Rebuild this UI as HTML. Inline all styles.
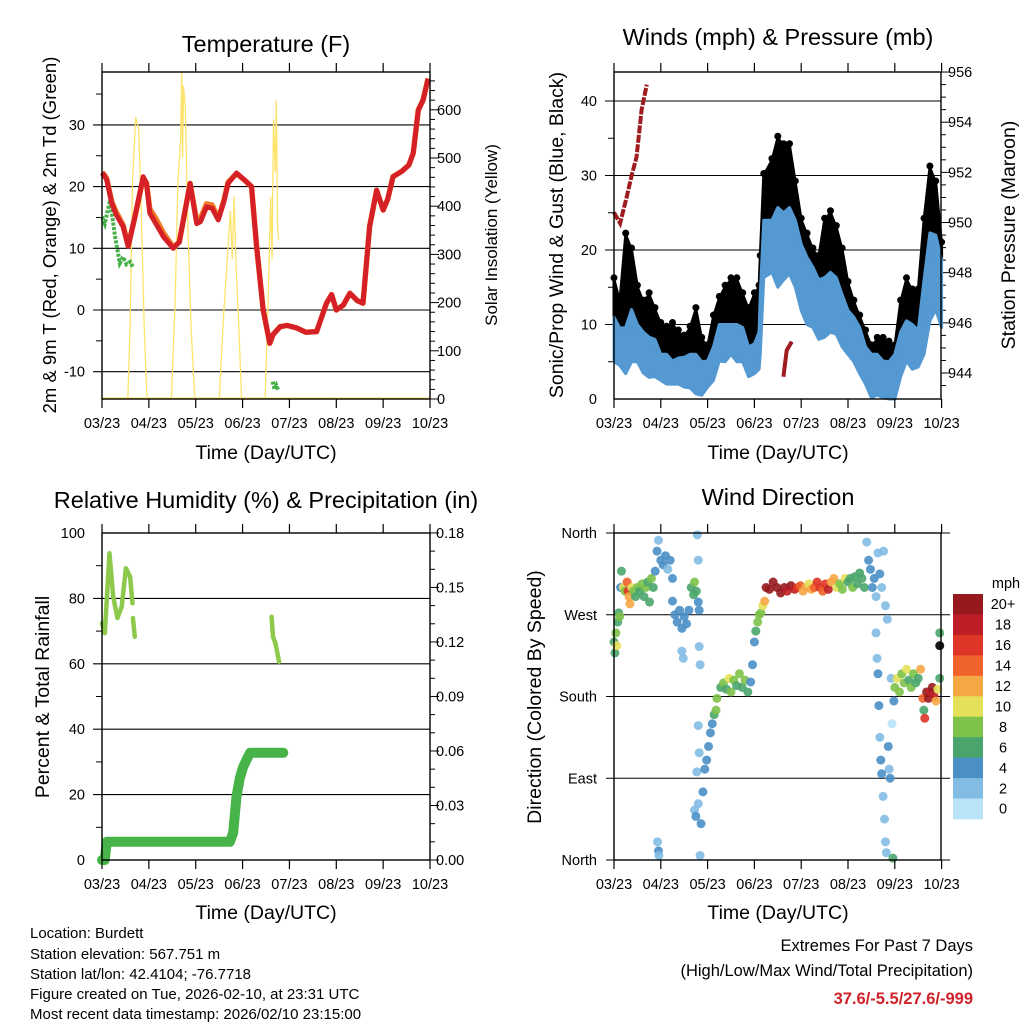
<!DOCTYPE html>
<html><head><meta charset="utf-8"><style>
body{margin:0;background:#fff}
svg{display:block;font-family:"Liberation Sans",Arial,sans-serif}
</style></head><body>
<svg id="chart" width="1024" height="1024" viewBox="0 0 1024 1024" xmlns="http://www.w3.org/2000/svg">
<rect width="1024" height="1024" fill="#fff"/>
<g font-size="23.5" text-anchor="middle" fill="#000">
<text x="266" y="52">Temperature (F)</text>
<text x="778" y="45">Winds (mph) &amp; Pressure (mb)</text>
<text x="266" y="508">Relative Humidity (%) &amp; Precipitation (in)</text>
<text x="778" y="505">Wind Direction</text>
</g>
<g font-size="19.5" text-anchor="middle">
<text x="266" y="459">Time (Day/UTC)</text>
<text x="778" y="459">Time (Day/UTC)</text>
<text x="266" y="919">Time (Day/UTC)</text>
<text x="778" y="919">Time (Day/UTC)</text>
<text transform="translate(56,235) rotate(-90)" font-size="18.5">2m &amp; 9m T (Red, Orange) &amp; 2m Td (Green)</text>
<text transform="translate(497,235) rotate(-90)" font-size="17">Solar Insolation (Yellow)</text>
<text transform="translate(563,235) rotate(-90)">Sonic/Prop Wind &amp; Gust (Blue, Black)</text>
<text transform="translate(1015,235) rotate(-90)">Station Pressure (Maroon)</text>
<text transform="translate(49,697) rotate(-90)">Percent &amp; Total Rainfall</text>
<text transform="translate(541,697) rotate(-90)">Direction (Colored By Speed)</text>
</g>
<g font-size="15" fill="#000">
<text x="30" y="938">Location: Burdett</text>
<text x="30" y="959">Station elevation: 567.751 m</text>
<text x="30" y="979">Station lat/lon: 42.4104; -76.7718</text>
<text x="30" y="999">Figure created on Tue, 2026-02-10, at 23:31 UTC</text>
<text x="30" y="1019">Most recent data timestamp: 2026/02/10 23:15:00</text>
</g>
<g font-size="16.5" text-anchor="end">
<text x="973" y="951">Extremes For Past 7 Days</text>
<text x="973" y="976">(High/Low/Max Wind/Total Precipitation)</text>
<text x="973" y="1004" fill="#d0222a" font-weight="bold">37.6/-5.5/27.6/-999</text>
</g>
<g id="plots"></g>
</svg>
<script>
// ---------- data ----------
const dateLabels=["03/23","04/23","05/23","06/23","07/23","08/23","09/23","10/23"];
const tDay=[0,0.05,0.1,0.21,0.3,0.45,0.56,0.7,0.88,0.95,1.02,1.15,1.31,1.52,1.65,1.88,2.02,2.1,2.23,2.35,2.48,2.6,2.69,2.87,3.05,3.19,3.3,3.44,3.58,3.65,3.8,3.95,4.15,4.35,4.58,4.79,4.9,5.0,5.15,5.29,5.45,5.57,5.71,5.86,6.0,6.1,6.21,6.4,6.55,6.64,6.75,6.85,6.96];
const tRed=[22.2,21.8,21.1,17.3,15.5,13.5,10.3,15,21.6,20.5,15.7,14,11.9,10,11,20.5,14,14.3,16.7,16.5,14.6,17.5,20.5,22.2,21,20,10.3,0,-5.4,-4,-2.7,-2.5,-2.9,-3.6,-3.5,1.1,2.5,0,0.8,2.7,1.5,1.1,13.5,19.4,16.2,18,21.6,22.5,23.5,25.4,32.4,34,37.5];
const tOrange=[22.3,21.9,21.3,17.5,15.9,13.8,10.4,15,21.4,20.6,16.4,14.8,12.5,10.2,11,20.5,14.4,14.8,17.2,17,14.8,17.7,20.7,22.1,21,20,10.3,0,-5.4,-4,-2.7,-2.5,-2.9,-3.6,-3.5,1.1,2.5,0,0.8,2.7,1.5,1.1,13.5,19.4,16.2,18,21.6,22.5,23.5,25.4,32.4,34,37.5];
const tdDay1=[0,0.06,0.17,0.28,0.38,0.45,0.52,0.6,0.67];
const tdVal1=[15.1,14,17.8,11.9,7.6,8.6,7.4,7.8,6.8];
const tdDay2=[3.64,3.68,3.72,3.76];
const tdVal2=[-11.6,-12.8,-12.2,-13];
const solDay=[0,0.55,0.6,0.65,0.72,0.78,0.83,0.9,0.96,1.48,1.56,1.62,1.68,1.7,1.72,1.74,1.78,1.82,1.9,1.98,2.5,2.6,2.68,2.74,2.78,2.82,2.86,2.92,2.98,3.48,3.55,3.6,3.63,3.66,3.7,3.72,3.75,3.77];
const solVal=[0,0,150,450,585,560,420,150,0,0,200,450,540,680,500,650,600,400,150,0,0,180,300,390,290,420,280,150,0,0,230,420,290,580,470,620,350,330];
const windDay=[0,0.125,0.25,0.375,0.5,0.625,0.75,0.875,1,1.125,1.25,1.375,1.5,1.625,1.75,1.875,2,2.125,2.25,2.375,2.5,2.625,2.75,2.875,3,3.1,3.125,3.2,3.375,3.5,3.625,3.75,3.875,4,4.125,4.25,4.375,4.5,4.625,4.75,4.875,5,5.125,5.25,5.375,5.5,5.625,5.75,5.875,6,6.125,6.25,6.375,6.5,6.625,6.75,6.875,7];
const sustLow=[5,4.5,3.4,5,5,3.5,2.9,3,2.5,2,2,2,1.6,1.5,0.7,0.5,1.6,2.5,5.1,5,6,5,5,3,3.4,4,6,16.3,17,15,16,16.8,15,11.9,10,9.6,8,8.3,9,8.7,7,6,5,3.4,2,0.2,0.5,0.2,0,0,3,5.1,4,4.3,6,10.5,12,9.6];
const sustHigh=[11,9.5,9.6,12,10,9,8.3,8,6,6,5.1,5.5,5.6,6,6,5,5.1,7,10,10,10,10,9.6,7,7.4,9,14,24,24,25.7,25,25.7,24,20.8,19,17.7,16,16.3,17,16.3,14,11.9,11,9.6,7,6,6,5.1,5,6,9,10.5,10,9.2,16,22.3,22,18.6];
const gust=[16,13,22,20,15,13,14,12,10,9.5,10,9,8.3,9.5,12,8,7,11,13.5,15,16,16,14,12,14,15,19,30,32,35,34,34,29,24,22,20,19,24,25,23,20,15.5,13,11,9,7,8,8,7.5,7,13,16,14.5,14.5,24,31,29,20.8];
const presDay1=[0,0.13,0.27,0.38,0.48,0.59,0.7];
const presVal1=[950.4,949.97,951.0,951.9,952.6,954.5,955.5];
const presDay2=[3.62,3.69,3.8];
const presVal2=[943.85,944.9,945.25];
const rhDay1=[0,0.06,0.16,0.24,0.33,0.42,0.51,0.6,0.65];
const rhVal1=[72.4,69.4,93.8,80.5,74,77.5,89.2,86.6,78.5];
const rhDay2=[0.66,0.7];
const rhVal2=[74,68.3];
const rhDay3=[3.62,3.65,3.7,3.78];
const rhVal3=[74.4,68.3,66.3,60.6];
const prDay=[0,0.06,0.1,0.17,2.73,2.8,2.87,2.94,3.01,3.1,3.16,3.87];
const prVal=[0,0,0.01,0.01,0.01,0.015,0.035,0.045,0.051,0.056,0.059,0.059];
const dirDay=[0,0.02,0.04,0.06,0.08,0.1,0.12,0.14,0.16,0.2,0.24,0.28,0.3,0.32,0.34,0.38,0.42,0.46,0.5,0.55,0.6,0.64,0.68,0.72,0.76,0.8,0.84,0.88,0.92,0.95,1.0,1.05,1.1,1.15,1.2,1.25,1.25,1.3,1.35,1.4,1.45,1.5,1.55,1.6,1.45,1.48,1.65,1.7,1.72,1.76,1.8,1.82,1.78,1.8,1.82,1.84,1.8,1.82,1.77,1.84,0.93,0.95,0.96,1.72,1.75,1.8,1.86,1.9,1.94,1.98,2.02,2.06,2.1,2.14,2.18,2.2,2.28,2.34,2.4,2.46,2.5,2.56,2.62,2.68,2.74,2.8,2.86,2.92,2.96,3.0,3.03,3.07,3.1,3.14,3.18,3.22,3.25,3.32,3.4,3.48,3.56,3.64,3.7,3.78,3.86,3.92,3.98,4.04,4.1,4.16,4.22,4.28,4.34,4.4,4.46,4.52,4.58,4.64,4.7,4.76,4.82,4.88,4.94,5.0,5.05,5.1,5.15,5.2,5.25,5.3,5.35,5.4,5.44,5.48,5.52,5.56,5.6,5.64,5.68,5.72,5.76,5.8,5.84,5.6,5.62,5.64,5.66,5.68,5.7,5.72,5.75,5.78,5.8,5.82,5.86,5.88,5.9,5.92,5.94,5.96,5.98,6.0,6.05,6.1,6.15,6.2,6.25,6.3,6.35,6.4,6.45,6.5,6.55,6.6,6.62,6.64,6.68,6.72,6.76,6.8,6.84,6.88,6.92,6.96,6.96,6.96];
const dirDeg=[240,228,250,236,262,272,268,300,318,300,296,306,296,290,282,300,296,290,300,296,304,290,300,306,284,310,300,318,340,352,330,325,335,320,330,310,285,270,262,275,255,268,260,275,230,222,300,292,306,296,284,275,358,330,235,215,148,118,97,5,20,10,5,55,48,62,40,75,100,110,125,140,150,160,165,178,190,195,188,200,185,198,192,205,190,198,185,196,215,240,252,262,270,272,280,285,300,298,306,300,294,300,296,302,298,300,302,296,300,304,298,300,306,300,296,304,298,306,310,300,304,298,310,306,310,300,312,304,316,310,300,350,330,320,300,310,290,338,315,300,340,280,265,250,222,205,170,135,110,95,70,45,20,8,125,100,90,200,150,2,175,190,200,185,205,195,210,198,190,205,195,200,210,178,165,156,185,178,185,190,180,175,188,200,250,236];
const dirSpd=[6,6,8,10,6,6,8,4,6,10,8,14,16,12,12,10,8,6,8,6,8,6,8,6,6,8,6,4,4,2,4,4,4,2,4,4,4,4,4,4,4,4,4,4,2,2,6,6,8,6,4,4,2,2,2,2,2,2,2,2,2,4,2,2,4,2,4,4,4,4,4,4,4,6,8,8,6,8,6,10,8,8,6,8,6,8,6,4,4,4,6,8,8,8,10,12,20,20,20,20,20,20,18,20,18,16,14,12,12,10,12,14,16,16,14,16,18,12,12,10,8,8,10,6,6,8,6,6,6,6,6,2,4,4,4,4,2,2,4,2,2,2,2,2,2,4,4,2,4,4,2,2,2,2,4,2,4,2,0,6,4,8,10,8,8,8,10,6,8,8,6,6,12,14,6,16,20,20,18,20,18,12,10,6,6];
const cbLabels=["20+","18","16","14","12","10","8","6","4","2","0"];
const cbColors=["#961a1d","#be1e26","#df3527","#ef622b","#f6a745","#e5e05a","#7dc24a","#4aa56c","#4a8fc6","#82bbe3","#b8e3f8"];

// ---------- helpers ----------
const NS="http://www.w3.org/2000/svg";
const root=document.getElementById('plots');
function mk(tag,attrs,parent){const e=document.createElementNS(NS,tag);for(const k in attrs)e.setAttribute(k,attrs[k]);(parent||root).appendChild(e);return e;}
function txt(x,y,s,anchor,size){const t=mk('text',{x:x,y:y,'text-anchor':anchor,'font-size':size||14.5});t.textContent=s;return t;}
const xL=d=>102+d*46.86, xR=d=>614+d*46.8;
const yT=v=>310-v*6.17, yS=v=>399-v*0.482;
const yW=v=>399-v*7.45, yP=p=>373-(p-944)*25.08;
const yR=v=>860-v*3.27, yPr=v=>860-v*1817;
const yD=v=>860-v*327/360;
function pts(days,vals,fx,fy){return days.map((d,i)=>fx(d).toFixed(1)+','+fy(vals[i]).toFixed(1)).join(' ');}

function frame(x0,x1,y0,y1,fx,name){
  for(let i=0;i<8;i++){
    const x=fx(i);
    let t=mk('line',{x1:x,x2:x,y1:y0-9,y2:y0,stroke:'#000','stroke-width':1.2});
    
    
    t=mk('line',{x1:x,x2:x,y1:y1,y2:y1+9,stroke:'#000','stroke-width':1.2});
    
    
    const l=txt(x,y1+29,dateLabels[i],'middle',14.5);
    
    
  }
}
function box(x0,x1,y0,y1,name){
  const r=mk('rect',{x:x0,y:y0,width:x1-x0,height:y1-y0,fill:'none',stroke:'#000','stroke-width':1.4});
  
  
}
function hgrid(y,x0,x1,name){
  const g=mk('line',{x1:x0,x2:x1,y1:y,y2:y,stroke:'#000','stroke-width':1.1});
  
  
}
function tick(x,y,len,name){
  const t=mk('line',{x1:x,x2:x+len,y1:y,y2:y,stroke:'#000','stroke-width':1});
  
  
}

// ---------- panel 1: temperature ----------
[-10,0,10,20,30].forEach(v=>{hgrid(yT(v),93,430,'temp-gridline');const l=txt(85,yT(v)+5,String(v),'end');});
[-5,5,15,25,35].forEach(v=>tick(102,yT(v),-6,'temp-minor-tick'));
for(let v=0;v<=660;v+=20){tick(430,yS(v),v%100===0?9:5,'solar-tick');}
[0,100,200,300,400,500,600].forEach(v=>{const l=txt(437,yS(v)+5,String(v),'start');});
let e;
e=mk('line',{x1:xL(0),x2:xL(7),y1:yS(0)-1,y2:yS(0)-1,stroke:'#fde36a','stroke-width':1.3});


e=mk('polyline',{points:pts(solDay,solVal,xL,yS),fill:'none',stroke:'#fde36a','stroke-width':1.3});


e=mk('polyline',{points:pts(tdDay1,tdVal1,xL,yT),fill:'none',stroke:'#46b048','stroke-width':4,'stroke-dasharray':'3 1.5'});


e=mk('polyline',{points:pts(tdDay2,tdVal2,xL,yT),fill:'none',stroke:'#46b048','stroke-width':4,'stroke-dasharray':'3 1.5'});


e=mk('polyline',{points:pts(tDay,tOrange,xL,yT),fill:'none',stroke:'#f07c2a','stroke-width':5.5,'stroke-linejoin':'round'});


e=mk('polyline',{points:pts(tDay,tRed,xL,yT),fill:'none',stroke:'#d42026','stroke-width':5,'stroke-linejoin':'round'});


box(102,430,72,399,'temp');
frame(102,430,72,399,xL,'temp');

// ---------- panel 2: winds ----------
[10,20,30,40].forEach(v=>hgrid(yW(v),605,941,'wind-gridline'));
[0,10,20,30,40].forEach(v=>{const l=txt(597,yW(v)+5,String(v),'end');});
[5,15,25,35].forEach(v=>tick(614,yW(v),-6,'wind-minor-tick'));
for(let p=943.5;p<=956.1;p+=0.5){tick(941,yP(p),Math.abs(p-Math.round(p/2)*2)<0.01?9:5,'pressure-tick');}
[944,946,948,950,952,954,956].forEach(p=>{const l=txt(948,yP(p)+5,String(p),'start');});
const blackPts=windDay.map((d,i)=>xR(d)+','+yW(gust[i])).join(' ')+' '+windDay.slice().reverse().map((d,j)=>{const i=windDay.length-1-j;return xR(d)+','+yW(sustHigh[i]);}).join(' ');
e=mk('polygon',{points:blackPts,fill:'#000',stroke:'#000','stroke-width':3,'stroke-linejoin':'round'});


windDay.forEach((d,i)=>{const c=mk('circle',{cx:xR(d),cy:yW(gust[i])-2,r:3.5,fill:'#000'});

});
const bluePts=windDay.map((d,i)=>xR(d)+','+yW(sustHigh[i])).join(' ')+' '+windDay.slice().reverse().map((d,j)=>{const i=windDay.length-1-j;return xR(d)+','+yW(sustLow[i]);}).join(' ');
e=mk('polygon',{points:bluePts,fill:'#5499d2',stroke:'#5499d2','stroke-width':3,'stroke-linejoin':'round'});


e=mk('polyline',{points:pts(presDay1,presVal1,xR,yP),fill:'none',stroke:'#9e1b1f','stroke-width':4,'stroke-dasharray':'8 1.5'});


e=mk('polyline',{points:pts(presDay2,presVal2,xR,yP),fill:'none',stroke:'#9e1b1f','stroke-width':4});


box(614,941,72,399,'wind');
frame(614,941,72,399,xR,'wind');

// ---------- panel 3: RH & precip ----------
[20,40,60,80].forEach(v=>hgrid(yR(v),93,430,'rh-gridline'));
[0,20,40,60,80,100].forEach(v=>{const l=txt(85,yR(v)+5,String(v),'end');});
[10,30,50,70,90].forEach(v=>tick(102,yR(v),-6,'rh-minor-tick'));
for(let k=0;k<=18;k++){tick(430,yPr(k/100),k%3===0?9:5,'precip-tick');}
[0,0.03,0.06,0.09,0.12,0.15,0.18].forEach(v=>{const l=txt(436,yPr(v)+5,v.toFixed(2),'start');});
e=mk('polyline',{points:pts(prDay,prVal,xL,yPr),fill:'none',stroke:'#47b348','stroke-width':10,'stroke-linecap':'round','stroke-linejoin':'round'});


[[rhDay1,rhVal1],[rhDay2,rhVal2],[rhDay3,rhVal3]].forEach((s,k)=>{
  const l=mk('polyline',{points:pts(s[0],s[1],xL,yR),fill:'none',stroke:'#8dca4b','stroke-width':4.5,'stroke-linecap':'round','stroke-linejoin':'round'});
  
  
});
box(102,430,533,860,'rh');
frame(102,430,533,860,xL,'rh');

// ---------- panel 4: wind direction ----------
const dirNames=["North","East","South","West","North"];
[0,90,180,270,360].forEach((v,i)=>{hgrid(yD(v),606,950,'direction-gridline');const l=txt(597,yD(v)+5,dirNames[i],'end');});
function spdColor(s){const idx=Math.min(10,Math.floor(s/2));return cbColors[10-idx];}
dirDay.forEach((d,i)=>{
  const c=mk('circle',{cx:xR(d),cy:yD(dirDeg[i]),r:4.5,fill:spdColor(dirSpd[i]),'fill-opacity':0.9});
  
  
});
box(614,941,533,860,'dir');
frame(614,941,533,860,xR,'dir');
// colorbar
const cbTop=594, cbH=20.45;
cbLabels.forEach((s,i)=>{
  const r=mk('rect',{x:953,y:cbTop+i*cbH,width:30,height:cbH+0.4,fill:cbColors[i]});
  
  
  const l=txt(1003,cbTop+i*cbH+cbH/2+5,s,'middle',14.5);
  
  
});
const mph=txt(1006,588,'mph','middle',14.5);


</script>
</body></html>
